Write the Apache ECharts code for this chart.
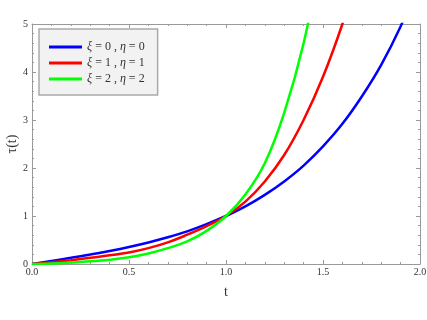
<!DOCTYPE html>
<html>
<head>
<meta charset="utf-8">
<script src="https://cdn.jsdelivr.net/npm/echarts@6/dist/echarts.min.js"></script>
<style>
  html, body { margin: 0; padding: 0; background: #fff; }
  #main { width: 427px; height: 320px; }
</style>
</head>
<body>
<div id="main"></div>
<script>
// values
var tValues = [0, 0.1, 0.2, 0.3, 0.4, 0.5, 0.6, 0.7, 0.8, 0.9, 1.0,
               1.1, 1.2, 1.3, 1.4, 1.5, 1.6, 1.7, 1.8, 1.9, 2.0]
var blueValues  = [0, 0.063, 0.128, 0.197, 0.272, 0.355, 0.449, 0.556, 0.68, 0.83, 1.0,
                   1.2, 1.44, 1.72, 2.05, 2.45, 2.92, 3.49, 4.15, 4.95, 5.9]
var redValues   = [0, 0.035, 0.08, 0.13, 0.18, 0.24, 0.33, 0.45, 0.61, 0.79, 1.0,
                   1.3, 1.72, 2.27, 3.0, 3.9, 5.0, 6.3]
var greenValues = [0, 0.01, 0.03, 0.055, 0.09, 0.14, 0.22, 0.33, 0.47, 0.69, 1.0,
                   1.45, 2.1, 3.15, 4.6, 6.6]
var seriesNames = ['ξ = 0 , η = 0', 'ξ = 1 , η = 1', 'ξ = 2 , η = 2']
var seriesColors = ['#0000ff', '#ff0000', '#00ff00']
var xTickLabels = ['0.0', '0.5', '1.0', '1.5', '2.0']
var yTickLabels = ['0', '1', '2', '3', '4', '5']

var chart = echarts.init(document.getElementById('main'))

function pairs(vals) {
  let out = []
  for (let i = 0; i < vals.length; i++) {
    out.push([tValues[i], vals[i]])
  }
  return out
}

var frameColor = '#999'
var serif = 'Liberation Serif'

// frame axis (top / right copies just carry ticks)
function xAx(pos, labels) {
  return {
    type: 'value', min: 0, max: 2, interval: 0.5, position: pos,
    axisLine: { show: true, onZero: false, lineStyle: { color: frameColor, width: 1 } },
    axisTick: { show: true, inside: true, length: 4, lineStyle: { color: frameColor } },
    minorTick: { show: true, splitNumber: 5, length: 2, lineStyle: { color: frameColor } },
    splitLine: { show: false },
    axisLabel: {
      show: labels, margin: 3, color: '#333', fontFamily: serif, fontSize: 10,
      formatter: function (v) { return xTickLabels[Math.round(v * 2)] }
    },
    name: labels ? 't' : '', nameLocation: 'middle', nameGap: 21, nameMoveOverlap: false,
    nameTextStyle: { color: '#333', fontFamily: serif, fontSize: 14 }
  }
}
function yAx(pos, labels) {
  return {
    type: 'value', min: 0, max: 5, interval: 1, position: pos,
    axisLine: { show: true, onZero: false, lineStyle: { color: frameColor, width: 1 } },
    axisTick: { show: true, inside: true, length: 4, lineStyle: { color: frameColor } },
    minorTick: { show: true, splitNumber: 5, length: 2, lineStyle: { color: frameColor } },
    splitLine: { show: false },
    axisLabel: {
      show: labels, margin: 4, color: '#333', fontFamily: serif, fontSize: 10,
      formatter: function (v) { return yTickLabels[Math.round(v)] }
    },
    name: labels ? 'τ(t)' : '', nameLocation: 'middle', nameGap: 13, nameRotate: 90,
    nameMoveOverlap: false,
    nameTextStyle: { color: '#333', fontFamily: serif, fontSize: 14 }
  }
}

var allValues = [blueValues, redValues, greenValues]
var seriesList = []
for (let i = 0; i < 3; i++) {
  seriesList.push({
    name: seriesNames[i],
    type: 'line',
    data: pairs(allValues[i]),
    showSymbol: false,
    symbol: 'none',
    smooth: 0.4,
    clip: true,
    lineStyle: { color: seriesColors[i], width: 2.5 },
    itemStyle: { color: seriesColors[i] },
    z: 3 + i
  })
}

var option = {
  animation: false,
  backgroundColor: '#fff',
  grid: { left: 32, right: 7, top: 24, bottom: 56, containLabel: false, outerBoundsMode: 'none' },
  xAxis: [xAx('bottom', true), xAx('top', false)],
  yAxis: [yAx('left', true), yAx('right', false)],
  legend: {
    orient: 'vertical',
    left: 39, top: 29,
    padding: [11, 13, 9, 10],
    backgroundColor: '#f2f2f2',
    borderColor: '#aaa',
    borderWidth: 1.5,
    borderRadius: 0,
    icon: 'rect',
    itemWidth: 33,
    itemHeight: 3,
    itemGap: 2,
    itemTextGap: 10,
    data: seriesNames,
    formatter: function (name) {
      return name.replace('ξ', '{i|ξ}').replace('η', '{i|η}')
    },
    textStyle: {
      color: '#333', fontFamily: serif, fontSize: 12, lineHeight: 14,
      rich: {
        i: { fontStyle: 'italic', fontFamily: serif, fontSize: 12, color: '#333', lineHeight: 14 }
      }
    }
  },
  series: seriesList
}

chart.setOption(option)
</script>
</body>
</html>
